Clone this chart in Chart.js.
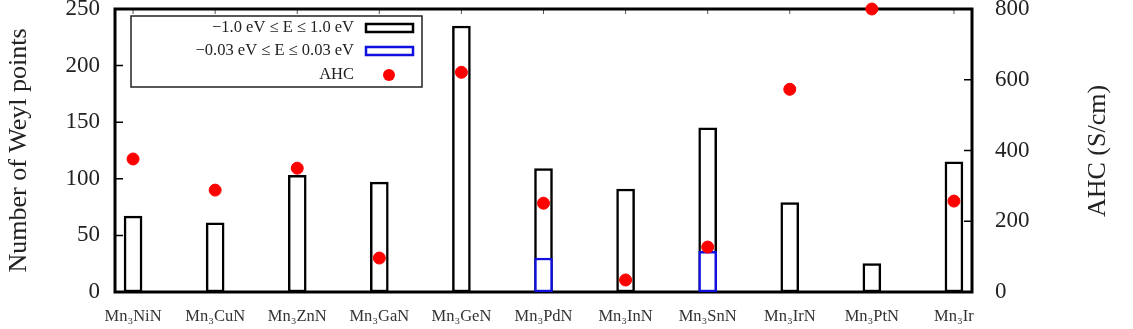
<!DOCTYPE html>
<html>
<head>
<meta charset="utf-8">
<script src="https://cdn.jsdelivr.net/npm/chart.js@4.4.1/dist/chart.umd.min.js"></script>
<style>
  html, body { margin: 0; padding: 0; background: #fff; }
  #wrap { width: 1133px; height: 329px; }
</style>
</head>
<body>
<div id="wrap"><canvas id="weylChart"></canvas></div>
<script>
// compounds along the x axis
const compounds = ['Mn₃NiN', 'Mn₃CuN', 'Mn₃ZnN', 'Mn₃GaN', 'Mn₃GeN', 'Mn₃PdN',
                   'Mn₃InN', 'Mn₃SnN', 'Mn₃IrN', 'Mn₃PtN', 'Mn₃Ir'];

// number of Weyl points, window -1.0 .. 1.0 eV
const weylWide = [67, 61, 103, 97, 235, 109, 91, 145, 79, 25, 115];
// number of Weyl points, window -0.03 .. 0.03 eV (only two visible)
const weylNarrow = [null, null, null, null, null, 30, null, 36, null, null, null];
// anomalous Hall conductivity, S/cm
const ahc = [376, 288, 350, 96, 621, 251, 34, 127, 573, 800, 257];

const leftTicks = [0, 50, 100, 150, 200, 250];
const rightTicks = [0, 200, 400, 600, 800];

const serif = "'Liberation Serif', 'DejaVu Serif', serif";

function toPoints(values){
    let pts = [];
    for(let i = 0; i < values.length; i++){
        pts.push({x: i, y: values[i]});
    }
    return pts;
}

// keep the plot box where it is, tick labels may hang over the edges
function fixBox(scale){
    scale.paddingTop = 0;
    scale.paddingBottom = 0;
    scale.paddingLeft = 0;
    scale.paddingRight = 0;
}

// box around the plot and the little inward ticks (gnuplot look)
const framePlugin = {
    id: 'frame',
    beforeDatasetsDraw(chart){
        const ctx = chart.ctx;
        const a = chart.chartArea;
        const x = chart.scales.x, y = chart.scales.y, y2 = chart.scales.y2;
        ctx.save();
        ctx.strokeStyle = '#000';

        ctx.lineWidth = 1.5;
        ctx.beginPath();
        leftTicks.forEach(v => {
            if(v === 0 || v === 250) return;
            const py = y.getPixelForValue(v);
            ctx.moveTo(a.left, py); ctx.lineTo(a.left + 8, py);
        });
        rightTicks.forEach(v => {
            if(v === 0 || v === 800) return;
            const py = y2.getPixelForValue(v);
            ctx.moveTo(a.right, py); ctx.lineTo(a.right - 8, py);
        });
        ctx.stroke();

        ctx.lineWidth = 1;
        ctx.strokeStyle = '#555';
        ctx.beginPath();
        compounds.forEach((c, i) => {
            const px = x.getPixelForValue(i);
            ctx.moveTo(px, a.bottom); ctx.lineTo(px, a.bottom - 5);
            ctx.moveTo(px, a.top); ctx.lineTo(px, a.top + 5);
        });
        ctx.stroke();

        ctx.lineWidth = 3;
        ctx.strokeStyle = '#000';
        ctx.strokeRect(a.left, a.top, a.right - a.left, a.bottom - a.top);
        ctx.restore();
    }
};

// legend: text right aligned, sample on the right, like gnuplot's key
// plus the right axis title, which reads bottom to top
const keyPlugin = {
    id: 'key',
    afterDatasetsDraw(chart){
        const ctx = chart.ctx;
        const sets = chart.data.datasets;
        ctx.save();
        ctx.fillStyle = '#fff';
        ctx.fillRect(131, 16, 291, 71);
        ctx.lineWidth = 1.5;
        ctx.strokeStyle = '#222';
        ctx.strokeRect(131, 16, 291, 71);

        ctx.font = '16.5px ' + serif;
        ctx.fillStyle = '#222';
        ctx.textAlign = 'right';
        ctx.textBaseline = 'middle';
        const rows = [28, 51, 75];
        for(let i = 0; i < 3; i++){
            ctx.fillText(sets[i].label, 354, rows[i]);
        }
        ctx.lineWidth = 2.5;
        ctx.strokeStyle = '#000';
        ctx.strokeRect(366, 24, 47, 8);
        ctx.strokeStyle = '#1010e0';
        ctx.strokeRect(366, 47, 47, 8);
        ctx.fillStyle = '#ff0000';
        ctx.beginPath();
        ctx.arc(389, 75, 6, 0, Math.PI * 2);
        ctx.fill();

        ctx.translate(1098, 151);
        ctx.rotate(-Math.PI / 2);
        ctx.font = '26px ' + serif;
        ctx.fillStyle = '#222';
        ctx.textAlign = 'center';
        ctx.fillText('AHC (S/cm)', 0, 0);
        ctx.restore();
    }
};

const ctx = document.getElementById('weylChart');

new Chart(ctx, {
    type: 'bar',
    data: {
        datasets: [{
            label: '−1.0 eV ≤ E ≤ 1.0 eV',
            data: toPoints(weylWide),
            backgroundColor: '#ffffff',
            borderColor: '#000000',
            borderWidth: 2.5,
            borderSkipped: false,
            barThickness: 18,
            grouped: false,
            yAxisID: 'y',
            order: 3
        }, {
            label: '−0.03 eV ≤ E ≤ 0.03 eV',
            data: toPoints(weylNarrow),
            backgroundColor: '#ffffff',
            borderColor: '#1010e0',
            borderWidth: 2.5,
            borderSkipped: false,
            barThickness: 18,
            grouped: false,
            yAxisID: 'y',
            order: 2
        }, {
            type: 'scatter',
            label: 'AHC',
            data: toPoints(ahc),
            backgroundColor: '#ff0000',
            borderColor: '#ff0000',
            pointRadius: 6,
            pointHoverRadius: 6,
            yAxisID: 'y2',
            clip: false,
            order: 1
        }]
    },
    options: {
        responsive: true,
        maintainAspectRatio: false,
        animation: false,
        events: [],
        layout: { padding: { top: 9, left: 0, right: 0, bottom: 0 } },
        plugins: {
            legend: { display: false },
            tooltip: { enabled: false }
        },
        scales: {
            x: {
                type: 'linear',
                offset: false,
                min: -0.22,
                max: 10.22,
                grid: { display: false, drawTicks: false, offset: false },
                border: { display: false },
                afterBuildTicks: axis => {
                    axis.ticks = compounds.map((c, i) => ({value: i}));
                },
                afterFit: scale => { scale.height = 37; fixBox(scale); },
                ticks: {
                    autoSkip: false,
                    maxRotation: 0,
                    padding: 15,
                    color: '#333',
                    font: { family: serif, size: 16.5 },
                    callback: value => compounds[value]
                }
            },
            y: {
                position: 'left',
                min: 0,
                max: 250,
                grid: { display: false, drawTicks: false },
                border: { display: false },
                afterBuildTicks: axis => {
                    axis.ticks = leftTicks.map(v => ({value: v}));
                },
                afterFit: scale => { scale.width = 115; fixBox(scale); },
                ticks: {
                    padding: 15,
                    color: '#222',
                    font: { family: serif, size: 23 }
                },
                title: {
                    display: true,
                    text: 'Number of Weyl points',
                    color: '#222',
                    font: { family: serif, size: 26 },
                    padding: { top: 4, bottom: 0 }
                }
            },
            y2: {
                position: 'right',
                min: 0,
                max: 800,
                grid: { display: false, drawTicks: false },
                border: { display: false },
                afterBuildTicks: axis => {
                    axis.ticks = rightTicks.map(v => ({value: v}));
                },
                afterFit: scale => { scale.width = 161; fixBox(scale); },
                ticks: {
                    padding: 23,
                    color: '#222',
                    font: { family: serif, size: 23 }
                }
            }
        }
    },
    plugins: [framePlugin, keyPlugin]
});
</script>
</body>
</html>
